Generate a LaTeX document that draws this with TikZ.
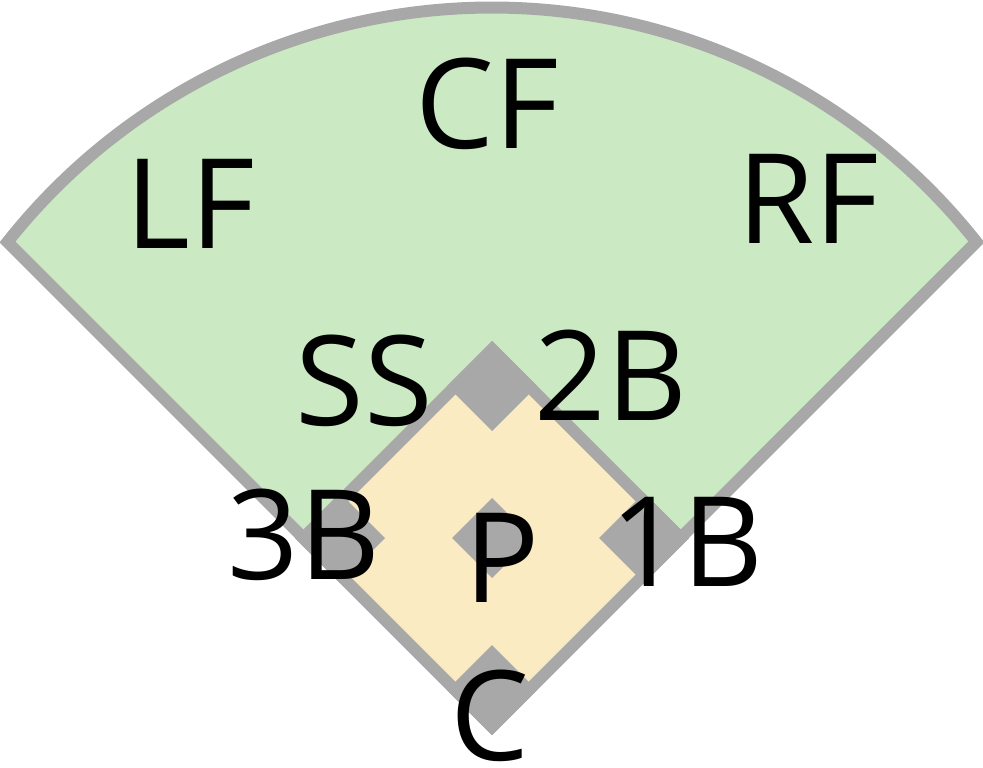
\documentclass[tikz,border=0pt]{standalone}
\usepackage{fontspec}
\setmainfont{Open Sans}
\definecolor{grass}{RGB}{203,234,195}
\definecolor{dirt}{RGB}{250,235,195}
\definecolor{chalk}{RGB}{168,168,168}
\begin{document}
\begin{tikzpicture}[x=1pt,y=-1pt,player/.style={inner sep=0,anchor=base,font=\fontsize{125}{125}\selectfont}]
\useasboundingbox (0,0) rectangle (983,768);

% draw outfield
\draw[chalk,fill=grass,line width=12pt,line join=miter] (492,726.5) -- (7.5,242)
  arc[start angle=-141.65,end angle=-38.35,radius=617.8] -- cycle;

% draw infield
\fill[chalk] (492,341) -- (689,538) -- (492,735) -- (295,538) -- cycle;
\fill[dirt] (492,358) -- (672,538) -- (492,718) -- (312,538) -- cycle;

% bases and mound
\foreach \x/\y in {492/386,644/538,340/538,492/690}
	\fill[chalk] (\x,\y) ++(0,-45) -- ++(45,45) -- ++(-45,45) -- ++(-45,-45) -- cycle;
\fill[chalk] (492,498) -- (532,538) -- (492,578) -- (452,538) -- cycle;

% positions
\node[player] (lf) at (190,248) {LF};
\node[player] (cf) at (487,148) {CF};
\node[player] (rf) at (808,243) {RF};
\node[player] (ss) at (364,425) {SS};
\node[player] (sb) at (611,420) {2B};
\node[player] (tb) at (304,579) {3B};
\node[player] (p) at (502,602) {P};
\node[player] (fb) at (687,586) {1B};
\node[player] (c) at (490,760) {C};
\end{tikzpicture}
\end{document}
